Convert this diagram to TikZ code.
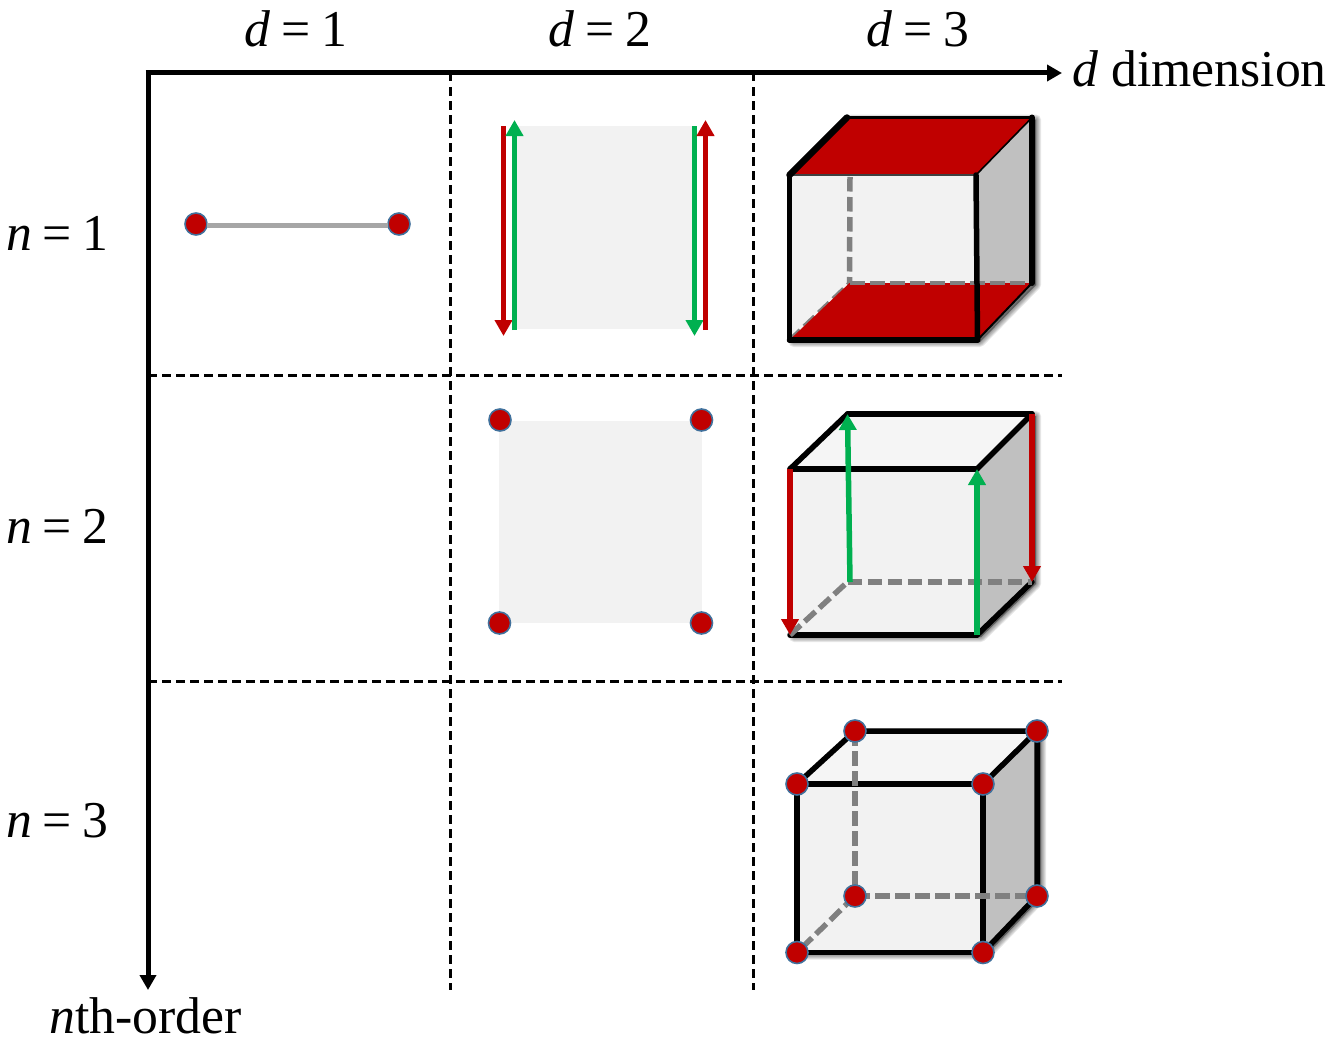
\documentclass[tikz,border=0pt]{standalone}
\usepackage{fontspec}
\setmainfont{Liberation Serif}
\usetikzlibrary{arrows.meta}
\definecolor{cred}{HTML}{C00000}
\definecolor{cgreen}{HTML}{00B050}
\definecolor{cface}{HTML}{F2F2F2}
\definecolor{ctop}{HTML}{F5F5F5}
\definecolor{cside}{HTML}{C0C0C0}
\definecolor{cdash}{HTML}{808080}
\definecolor{cdot}{HTML}{41719C}
\definecolor{cline}{HTML}{A6A6A6}
\tikzset{
  x=1pt,y=-1pt,
  lab/.style={anchor=base west,inner sep=0pt,outer sep=0pt,font=\fontsize{51.7}{54}\selectfont},
  toplab/.style={anchor=base,inner sep=0pt,outer sep=0pt,font=\fontsize{51.7}{54}\selectfont},
  axis/.style={line width=5pt,-{Triangle[length=15pt,width=16pt]}},
  grid/.style={line width=2.8pt,dash pattern=on 8.5pt off 5.5pt},
  dot/.style={circle,fill=cred,draw=cdot,line width=1.6pt,minimum size=22pt,inner sep=0pt},
  edge/.style={line width=5.5pt,line cap=round,line join=round},
  hidden/.style={line width=5.5pt,cdash,dash pattern=on 14.5pt off 5.5pt},
  redarr/.style={line width=5.5pt,cred,-{Triangle[length=16pt,width=17pt]}},
  greenarr/.style={line width=5.5pt,cgreen,-{Triangle[length=16pt,width=17pt]}},
}
\newcommand{\cubecoords}[9]{%
  \coordinate (#1ftl) at (#2,#4);
  \coordinate (#1ftr) at (#3,#4);
  \coordinate (#1fbr) at (#3,#5);
  \coordinate (#1fbl) at (#2,#5);
  \coordinate (#1btl) at (#6,#8);
  \coordinate (#1btr) at (#7,#8);
  \coordinate (#1bbr) at (#7,#9);
  \coordinate (#1bbl) at (#6,#9);
}
\newcommand{\cubebase}[1]{%
  \foreach \w in {10,8,6,4,2}{
    \draw[black,opacity=.09,fill=black,fill opacity=.09,line width=\w pt,line join=round,transform canvas={xshift=4pt,yshift=-2pt}]
      (#1ftl)--(#1btl)--(#1btr)--(#1bbr)--(#1fbr)--(#1fbl)--cycle;
  }
  \fill[cface] (#1ftl)--(#1btl)--(#1btr)--(#1bbr)--(#1fbr)--(#1fbl)--cycle;
  \fill[ctop] (#1ftl)--(#1btl)--(#1btr)--(#1ftr)--cycle;
  \fill[cside] (#1ftr)--(#1btr)--(#1bbr)--(#1fbr)--cycle;
}
\begin{document}
\begin{tikzpicture}
\useasboundingbox (0,0) rectangle (1328,1041);
\fill[white] (0,0) rectangle (1328,1041);

% axes and grid
\coordinate (xstart) at (145.5,73);
\coordinate (ystart) at (148,73);
\coordinate (xend) at (1062,73);
\coordinate (yend) at (148,990);
\coordinate (v1t) at (450.5,73);
\coordinate (v1b) at (450.5,990);
\coordinate (v2t) at (753.5,73);
\coordinate (v2b) at (753.5,990);
\coordinate (h1l) at (148,375.5);
\coordinate (h1r) at (1062,375.5);
\coordinate (h2l) at (148,681.5);
\coordinate (h2r) at (1062,681.5);
\draw[grid] (v1t)--(v1b);
\draw[grid] (v2t)--(v2b);
\draw[grid] (h1l)--(h1r);
\draw[grid] (h2l)--(h2r);
\draw[axis] (xstart)--(xend);
\draw[axis] (ystart)--(yend);

% labels
\node[toplab] (d1) at (296,47) {\textit{d}\hspace{11pt}=\hspace{11pt}1};
\node[toplab] (d2) at (600,47) {\textit{d}\hspace{11pt}=\hspace{11pt}2};
\node[toplab] (d3) at (918,47) {\textit{d}\hspace{11pt}=\hspace{11pt}3};
\node[lab] (n1) at (6,250) {\textit{n}\hspace{11pt}=\hspace{11pt}1};
\node[lab] (n2) at (6,543) {\textit{n}\hspace{11pt}=\hspace{11pt}2};
\node[lab] (n3) at (6,837) {\textit{n}\hspace{11pt}=\hspace{11pt}3};
\node[lab] (xlab) at (1072.5,87) {\textit{d} dimension};
\node[lab] (ylab) at (49.5,1033) {\textit{n}th-order};

% d=1, n=1
\node[dot] (s1) at (196,224) {};
\node[dot] (s2) at (399,224) {};
\coordinate (s1e) at (207,225);
\coordinate (s2e) at (388,225);
\draw[line width=5pt,cline] (s1e)--(s2e);

% d=2, n=1
\fill[cface] (514,126) rectangle (694,329);
\coordinate (al1) at (503.5,126);
\coordinate (al2) at (503.5,336);
\coordinate (bl1) at (514.5,330);
\coordinate (bl2) at (514.5,120);
\coordinate (ar1) at (694.5,126);
\coordinate (ar2) at (694.5,336);
\coordinate (br1) at (705.5,330);
\coordinate (br2) at (705.5,120);
\draw[redarr] (al1)--(al2);
\draw[greenarr] (bl1)--(bl2);
\draw[greenarr] (ar1)--(ar2);
\draw[redarr] (br1)--(br2);

% d=2, n=2
\fill[cface] (499,420.5) rectangle (702,623);
\node[dot] (q1) at (500,420) {};
\node[dot] (q2) at (701.5,420) {};
\node[dot] (q3) at (499.5,623) {};
\node[dot] (q4) at (701.5,623) {};

% d=3, n=1
\cubecoords{a}{789.5}{976}{175}{340}{847}{1032}{117.5}{283}
\cubebase{a}
\coordinate (afbx) at (977.5,340);
\coordinate (adv) at (850,177);
\coordinate (adb) at (849.5,283);
\draw[hidden,line width=4pt] (afbl)--(adb);
\draw[hidden] (adv)--(adb);
\fill[cred] (aftl)--(abtl)--(abtr)--(aftr)--cycle;
\fill[cred] (afbl)--(adb)--(abbr)--(afbx)--cycle;
\draw[hidden,line width=4pt,dash pattern=on 15pt off 5pt] (adb)--(abbr);
\draw[line width=1.6pt,black!75] (aftl)--(aftr);
\draw[line width=1.6pt,black] (aftr)--(abtr);
\draw[edge,line width=3.5pt] (abtl)--(abtr);
\draw[edge,line width=6.5pt] (aftl)--(abtl);
\draw[edge,line width=6pt] (abtr)--(abbr);
\draw[line width=2pt] (abbr)--(afbx);
\draw[edge] (afbx)--(afbl);
\draw[edge] (afbl)--(aftl);
\draw[edge] (aftr)--(afbx);

% d=3, n=2
\cubecoords{b}{790}{977}{469}{635}{847.5}{1032}{414}{582}
\cubebase{b}
\draw[edge] (bftl)--(bftr);
\draw[edge] (bftl)--(bbtl);
\draw[edge] (bbtl)--(bbtr);
\draw[edge] (bbtr)--(bftr);
\draw[edge] (bfbl)--(bfbr);
\draw[edge] (bfbr)--(bbbr);
\draw[hidden] (bfbl)--(bbbl);
\draw[hidden] (bbbl)--(bbbr);
\draw[redarr] (bftl)--(bfbl);
\draw[redarr] (bbtr)--(bbbr);
\coordinate (bgs) at (850,582);
\draw[greenarr] (bgs)--(bbtl);
\draw[greenarr] (bfbr)--(bftr);

% d=3, n=3
\cubecoords{c}{797}{983}{784}{952.5}{855}{1037}{731}{896}
\cubebase{c}
\draw[edge] (cftl)--(cftr)--(cfbr)--(cfbl)--cycle;
\draw[edge] (cftl)--(cbtl)--(cbtr)--(cftr);
\draw[edge] (cbtr)--(cbbr)--(cfbr);
\draw[hidden] (cbtl)--(cbbl);
\draw[hidden] (cbbl)--(cbbr);
\draw[hidden] (cbbl)--(cfbl);
\node[dot] (c1) at (cftl) {};
\node[dot] (c2) at (cftr) {};
\node[dot] (c3) at (cfbr) {};
\node[dot] (c4) at (cfbl) {};
\node[dot] (c5) at (cbtl) {};
\node[dot] (c6) at (cbtr) {};
\node[dot] (c7) at (cbbr) {};
\node[dot] (c8) at (cbbl) {};
\end{tikzpicture}
\end{document}
